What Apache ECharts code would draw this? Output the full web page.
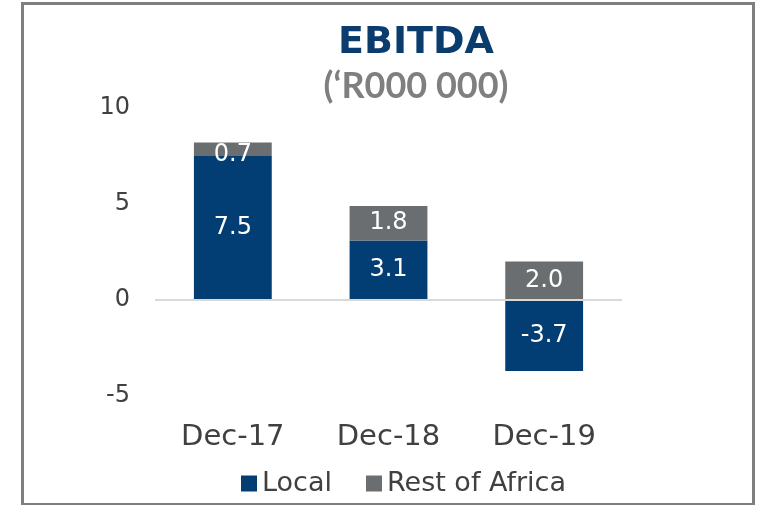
<!DOCTYPE html>
<html>
<head>
<meta charset="utf-8">
<script src="https://cdn.jsdelivr.net/npm/echarts@6/dist/echarts.min.js"></script>
<style>
  html, body { margin: 0; padding: 0; background: #fff; }
  #frame { position: absolute; left: 21px; top: 2px; width: 728px; height: 498px; border: 3px solid #7f7f7f; }
  #ebitda { position: absolute; left: 0; top: 0; width: 764px; height: 505px; }
</style>
</head>
<body>
<div id="frame"></div>
<div id="ebitda"></div>
<script>
var categories = ['Dec-17', 'Dec-18', 'Dec-19'];
var localValues = [7.5, 3.1, -3.7];
var restOfAfricaValues = [0.7, 1.8, 2.0];

var chart = echarts.init(document.getElementById('ebitda'));

var labelStyle = {
    show: true,
    position: 'inside',
    color: '#ffffff',
    fontSize: 24,
    fontFamily: 'DejaVu Sans',
    formatter: function (p) { return p.value.toFixed(1); }
};

var option = {
    animation: false,
    title: [
        {
            text: 'EBITDA',
            left: 411,
            top: 19,
            textAlign: 'center',
            textStyle: { color: '#0b3c6e', fontSize: 38, fontWeight: 'bold', fontFamily: 'DejaVu Sans' }
        },
        {
            text: '(\u2018R000 000)',
            left: 411,
            top: 63,
            textAlign: 'center',
            textStyle: { color: '#7f7f7f', fontSize: 36, fontWeight: 'bold', fontFamily: 'Lato' }
        }
    ],
    legend: {
        bottom: 3,
        left: 236,
        itemWidth: 16,
        itemHeight: 16,
        itemGap: 34,
        icon: 'rect',
        textStyle: { color: '#404040', fontSize: 27, fontFamily: 'DejaVu Sans' },
        data: ['Local', 'Rest of Africa']
    },
    grid: { left: 155, right: 142, top: 108, bottom: 109 },
    xAxis: {
        type: 'category',
        data: categories,
        axisLine: { show: false, onZero: false },
        axisTick: { show: false },
        axisLabel: { color: '#404040', fontSize: 29, fontFamily: 'DejaVu Sans', margin: 27 }
    },
    yAxis: {
        type: 'value',
        min: -5,
        max: 10,
        interval: 5,
        splitLine: { show: false },
        axisLabel: { color: '#404040', fontSize: 24, fontFamily: 'DejaVu Sans', margin: 25 }
    },
    series: [
        {
            name: 'Local',
            type: 'bar',
            stack: 'total',
            barWidth: '50%',
            data: localValues,
            itemStyle: { color: '#023e73' },
            label: labelStyle,
            markLine: {
                silent: true,
                symbol: 'none',
                label: { show: false },
                lineStyle: { color: '#d9d9d9', width: 2, type: 'solid' },
                data: [{ yAxis: 0 }]
            },
            z: 2
        },
        {
            name: 'Rest of Africa',
            type: 'bar',
            stack: 'total',
            barWidth: '50%',
            data: restOfAfricaValues.map(function (v, i) {
                // the thin Dec-17 segment carries its label a little lower, as in the source
                return i === 0 ? { value: v, label: { offset: [0, 5] } } : v;
            }),
            itemStyle: { color: '#6b6e70' },
            label: labelStyle,
            z: 3
        }
    ]
};

chart.setOption(option);

window.onresize = chart.resize;
</script>
</body>
</html>
